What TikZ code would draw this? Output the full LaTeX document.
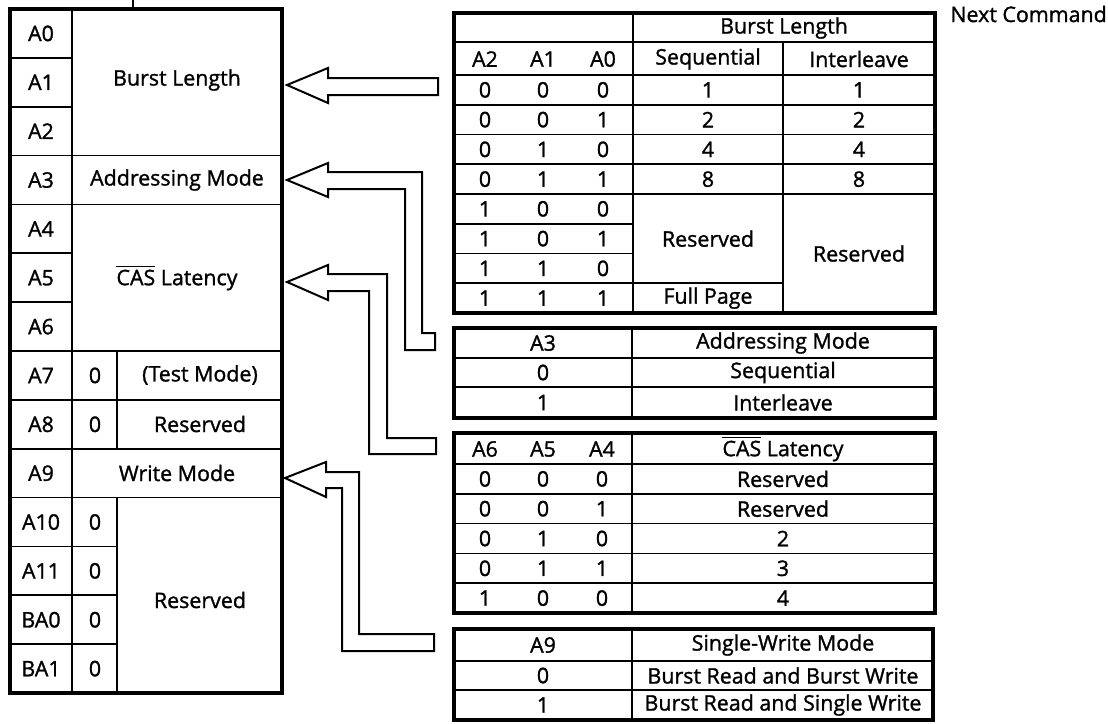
\documentclass[tikz,border=0pt]{standalone}
\usepackage{fontspec}
\setmainfont{Open Sans}[BoldFont={Open Sans}, BoldFeatures={FakeBold=1.3}]

\begin{document}
\begin{tikzpicture}[
    x=0.5pt, y=-0.5pt,
    frame/.style={line width=1.7pt},
    rule/.style={line width=0.85pt},
    headrule/.style={line width=1.3pt},
    blockarrow/.style={line width=1pt, line join=miter, fill=white},
    cell/.style={inner sep=0pt, font=\fontsize{10.7}{12}\selectfont\bfseries}
]
    \useasboundingbox (0,0) rectangle (1108,723);

    % mode register
    \draw[rule] (133,0) -- (133,9);
    \draw[frame] (10,9) rectangle (282,693);
    \draw[rule] (72,9) -- (72,693);
    \foreach \i in {1,...,13}
        \draw[rule] (10,{9+48.86*\i}) -- (72,{9+48.86*\i});
    \foreach \i in {3,4,7,8,9,10}
        \draw[rule] (72,{9+48.86*\i}) -- (282,{9+48.86*\i});
    \foreach \i in {11,12,13}
        \draw[rule] (72,{9+48.86*\i}) -- (117,{9+48.86*\i});
    \draw[rule] (117,{9+48.86*7}) -- (117,{9+48.86*9});
    \draw[rule] (117,{9+48.86*10}) -- (117,693);

    \foreach \n [count=\i from 0] in {A0,A1,A2,A3,A4,A5,A6,A7,A8,A9,A10,A11,BA0,BA1}
        \node[cell] (reg\n) at (41,{9+48.86*(\i+0.5)}) {\n};
    \foreach \i in {7,8,10,11,12,13}
        \node[cell] (zero\i) at (95,{9+48.86*(\i+0.5)}) {0};
    \node[cell] (fBL) at (177,80) {Burst Length};
    \node[cell] (fAM) at (177,180) {Addressing Mode};
    \node[cell] (fCL) at (177,278) {$\overline{\mbox{CAS}}$ Latency};
    \node[cell] (fTM) at (200,375) {(Test Mode)};
    \node[cell] (fR8) at (200,424) {Reserved};
    \node[cell] (fWM) at (177,473) {Write Mode};
    \node[cell] (fRR) at (200,600) {Reserved};

    \node[cell, anchor=west] (next) at (950,14) {Next Command};

    % block arrows
    \draw[blockarrow] (287,85) -- (328,68) -- (328,78) -- (438,78) -- (438,95)
        -- (328,95) -- (328,103) -- cycle;
    \draw[blockarrow] (287,180) -- (328,163) -- (328,172) -- (422,172) -- (422,333)
        -- (435,333) -- (435,350) -- (405,350) -- (405,189) -- (328,189) -- (328,197) -- cycle;
    \draw[blockarrow] (287,282) -- (328,265) -- (328,274) -- (387,274) -- (387,438)
        -- (436,438) -- (436,454) -- (369,454) -- (369,291) -- (328,291) -- (328,300) -- cycle;
    \draw[blockarrow] (285,478) -- (326,462) -- (326,472) -- (359,472) -- (359,634)
        -- (434,634) -- (434,651) -- (342,651) -- (342,488) -- (326,488) -- (326,497) -- cycle;

    % burst length table
    \draw[frame] (454,13) rectangle (935,313);
    \draw[rule] (454,42) -- (935,42);
    \draw[headrule] (454,75) -- (935,75);
    \foreach \i in {1,...,4}
        \draw[rule] (454,{75+29.75*\i}) -- (935,{75+29.75*\i});
    \foreach \i in {5,6}
        \draw[rule] (454,{75+29.75*\i}) -- (633,{75+29.75*\i});
    \draw[rule] (454,{75+29.75*7}) -- (783,{75+29.75*7});
    \draw[rule] (633,13) -- (633,313);
    \draw[rule] (783,42) -- (783,313);

    \node[cell] (blHead) at (784,28) {Burst Length};
    \node[cell] (blA2) at (485,59) {A2};
    \node[cell] (blA1) at (543,59) {A1};
    \node[cell] (blA0) at (603,59) {A0};
    \node[cell] (blSeq) at (708,59) {Sequential};
    \node[cell] (blInt) at (859,59) {Interleave};
    \foreach \a/\b/\c [count=\i from 0] in {0/0/0,0/0/1,0/1/0,0/1/1,1/0/0,1/0/1,1/1/0,1/1/1} {
        \node[cell] (blx\i) at (485,{75+29.75*(\i+0.5)}) {\a};
        \node[cell] (bly\i) at (543,{75+29.75*(\i+0.5)}) {\b};
        \node[cell] (blz\i) at (603,{75+29.75*(\i+0.5)}) {\c};
    }
    \foreach \v [count=\i from 0] in {1,2,4,8} {
        \node[cell] (blS\i) at (708,{75+29.75*(\i+0.5)}) {\v};
        \node[cell] (blI\i) at (859,{75+29.75*(\i+0.5)}) {\v};
    }
    \node[cell] (blSR) at (708,{75+29.75*5.5}) {Reserved};
    \node[cell] (blFP) at (708,{75+29.75*7.5}) {Full Page};
    \node[cell] (blIR) at (859,{75+29.75*6}) {Reserved};

    % addressing mode table
    \draw[frame] (454,328) rectangle (935,418);
    \draw[headrule] (454,358) -- (935,358);
    \draw[rule] (454,387) -- (935,387);
    \draw[rule] (632,328) -- (632,418);
    \node[cell] (amA3) at (543,343) {A3};
    \node[cell] (amHead) at (783,343) {Addressing Mode};
    \node[cell] (am0) at (543,372.5) {0};
    \node[cell] (amS) at (783,372.5) {Sequential};
    \node[cell] (am1) at (543,402.5) {1};
    \node[cell] (amI) at (783,402.5) {Interleave};

    % CAS latency table
    \draw[frame] (454,433) rectangle (935,613);
    \draw[headrule] (454,464) -- (935,464);
    \foreach \i in {1,...,4}
        \draw[rule] (454,{464+29.8*\i}) -- (935,{464+29.8*\i});
    \draw[rule] (632,433) -- (632,613);
    \node[cell] (clA6) at (485,449) {A6};
    \node[cell] (clA5) at (543,449) {A5};
    \node[cell] (clA4) at (602,449) {A4};
    \node[cell] (clHead) at (783,449) {$\overline{\mbox{CAS}}$ Latency};
    \foreach \a/\b/\c/\v [count=\i from 0] in {0/0/0/Reserved,0/0/1/Reserved,0/1/0/2,0/1/1/3,1/0/0/4} {
        \node[cell] (clx\i) at (485,{464+29.8*(\i+0.5)}) {\a};
        \node[cell] (cly\i) at (543,{464+29.8*(\i+0.5)}) {\b};
        \node[cell] (clz\i) at (602,{464+29.8*(\i+0.5)}) {\c};
        \node[cell] (clv\i) at (783,{464+29.8*(\i+0.5)}) {\v};
    }

    % write mode table
    \draw[frame] (454,629) rectangle (933,720);
    \draw[headrule] (454,661) -- (933,661);
    \draw[rule] (454,690) -- (933,690);
    \draw[rule] (632,629) -- (632,720);
    \node[cell] (wmA9) at (543,645) {A9};
    \node[cell] (wmHead) at (783,645) {Single-Write Mode};
    \node[cell] (wm0) at (543,675.5) {0};
    \node[cell] (wmBB) at (783,675.5) {Burst Read and Burst Write};
    \node[cell] (wm1) at (543,705) {1};
    \node[cell] (wmBS) at (783,705) {Burst Read and Single Write};
\end{tikzpicture}
\end{document}
